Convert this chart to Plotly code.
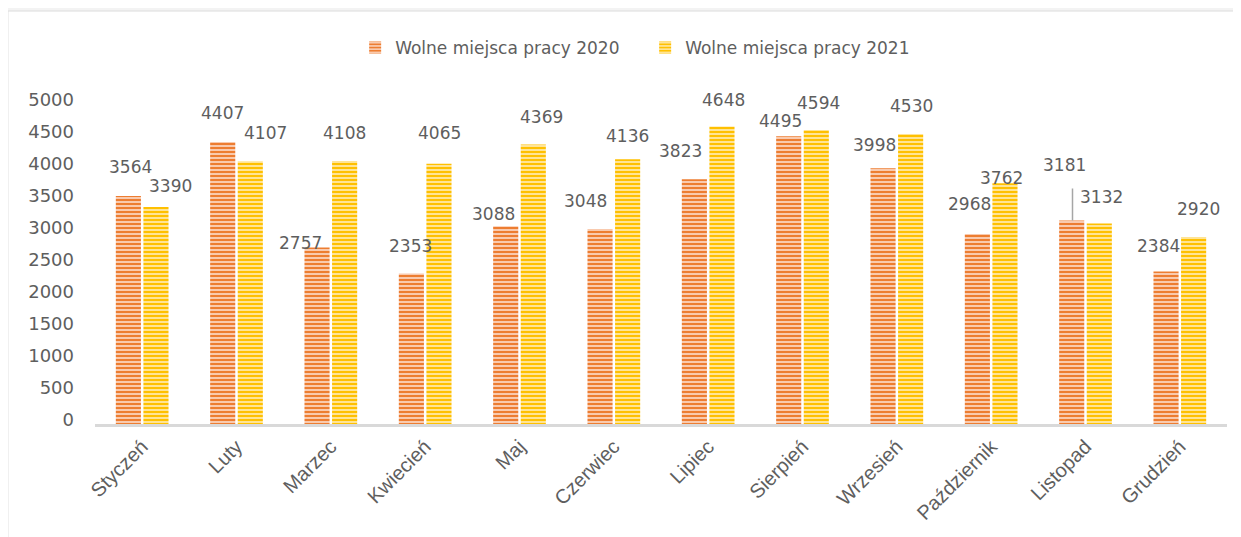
import plotly.graph_objects as go

months = ["Styczeń", "Luty", "Marzec", "Kwiecień", "Maj", "Czerwiec", "Lipiec",
          "Sierpień", "Wrzesień", "Październik", "Listopad", "Grudzień"]
values_2020 = [3564, 4407, 2757, 2353, 3088, 3048, 3823, 4495, 3998, 2968, 3181, 2384]
values_2021 = [3390, 4107, 4108, 4065, 4369, 4136, 4648, 4594, 4530, 3762, 3132, 2920]
name_2020 = "Wolne miejsca pracy 2020"
name_2021 = "Wolne miejsca pracy 2021"

# label offsets (pixels) relative to the bar centre / bar top
off_2020 = [(2, 29), (0, 29), (-16, 5), (-1, 27), (-12, 12), (-14, 28), (-14, 28),
            (-8, 15), (-8, 23), (-8, 30), (-7, 55), (-7, 25)]
off_2021 = [(14, 21), (15, 28), (0, 28), (0, 31), (8, 27), (0, 23), (1, 27),
            (2, 27), (1, 28), (-4, 5), (2, 27), (5, 28)]

ORANGE = "#ED7D31"
YELLOW = "#FFC000"
TXT = "#5E5E5E"
LFONT = "DejaVu Sans"

fig = go.Figure()
fig.add_trace(go.Bar(
    x=months, y=values_2020, name=name_2020,
    marker=dict(color=ORANGE, line=dict(width=0),
                pattern=dict(shape="-", fgcolor="#FBD3BC", size=4, solidity=0.45, fgopacity=1)),
))
fig.add_trace(go.Bar(
    x=months, y=values_2021, name=name_2021,
    marker=dict(color=YELLOW, line=dict(width=0),
                pattern=dict(shape="-", fgcolor="#FFE9A6", size=4, solidity=0.45, fgopacity=1)),
))

BAR_OFF = 14
annotations = []
for m, v, (dx, dy) in zip(months, values_2020, off_2020):
    annotations.append(dict(x=m, y=v, xref="x", yref="y", text=f"{v}",
                            showarrow=False, xshift=-BAR_OFF + dx, yshift=dy,
                            font=dict(family=LFONT, size=17, color=TXT)))
    if m == "Listopad":
        # leader line from the label down to the bar top
        annotations.append(dict(x=m, y=v, xref="x", yref="y", text=" ",
                                showarrow=True, arrowhead=0, arrowwidth=1.5,
                                arrowcolor="#A6A6A6", ax=0, ay=-34, standoff=0,
                                xshift=-BAR_OFF + 1, font=dict(size=1)))
for m, v, (dx, dy) in zip(months, values_2021, off_2021):
    annotations.append(dict(x=m, y=v, xref="x", yref="y", text=f"{v}",
                            showarrow=False, xshift=BAR_OFF + dx, yshift=dy,
                            font=dict(family=LFONT, size=17, color=TXT)))

fig.update_layout(
    width=1233, height=529,
    margin=dict(l=87, r=14, t=96, b=113),
    paper_bgcolor="#F3F3F3",
    plot_bgcolor="rgba(0,0,0,0)",
    barmode="group",
    bargap=0.415,
    bargroupgap=0.09,
    showlegend=True,
    legend=dict(orientation="h", x=0.486, xanchor="center", y=1.175, yanchor="middle",
                font=dict(family=LFONT, size=17, color=TXT), bgcolor="rgba(0,0,0,0)",
                itemwidth=30, entrywidth=245),
    annotations=annotations,
    shapes=[dict(type="rect", xref="paper", yref="paper",
                 x0=-0.0769, x1=1.03, y0=-0.4, y1=1.2906,
                 fillcolor="white", line=dict(color="#DCDCDC", width=1), layer="below")],
)
fig.update_yaxes(range=[0, 5000], dtick=500, showgrid=False, zeroline=False,
                 showline=False, ticks="", ticklabelstandoff=20, ticklabelshift=-4,
                 tickfont=dict(family=LFONT, size=18, color=TXT))
fig.update_xaxes(showline=True, linecolor="#D9D9D9", linewidth=3, ticks="",
                 showgrid=False, tickangle=-45,
                 tickfont=dict(family="Liberation Sans", size=20, color=TXT))

fig.write_html("out.html")
